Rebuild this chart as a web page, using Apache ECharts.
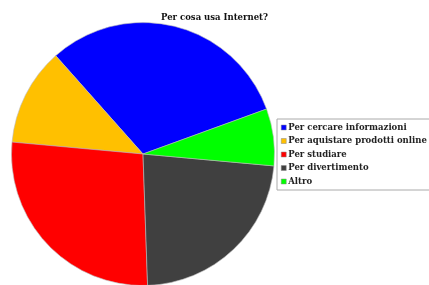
<!DOCTYPE html>
<html>
<head>
<meta charset="utf-8">
<script src="https://cdn.jsdelivr.net/npm/echarts@6/dist/echarts.min.js"></script>
<style>
  html, body { margin: 0; padding: 0; background: #fff; }
  #chart { width: 429px; height: 285px; }
</style>
</head>
<body>
<div id="chart"></div>
<script>
const categories = ['Per cercare informazioni', 'Per aquistare prodotti online', 'Per studiare', 'Per divertimento', 'Altro']
const values = [31, 12, 27, 23, 7]
const colors = ['#0000ff', '#ffc000', '#ff0000', '#404040', '#00ff00']

let chart = echarts.init(document.getElementById('chart'))

let option = {
    backgroundColor: '#ffffff',
    animation: false,
    title: {
        text: 'Per cosa usa Internet?',
        left: 'center',
        top: 8,
        textStyle: {
            fontFamily: 'DejaVu Serif',
            fontWeight: 'bold',
            fontSize: 8.5,
            color: '#111'
        }
    },
    legend: {
        orient: 'vertical',
        left: 277,
        top: 119,
        padding: [4, 12, 4, 4],
        backgroundColor: '#fff',
        borderColor: '#aaa',
        borderWidth: 1,
        itemWidth: 5,
        itemHeight: 5,
        itemGap: 4.5,
        icon: 'rect',
        itemStyle: { borderColor: '#888', borderWidth: 0.5 },
        textStyle: {
            fontFamily: 'DejaVu Serif',
            fontWeight: 'bold',
            fontSize: 8.5,
            lineHeight: 9,
            color: '#222',
            padding: [0, 0, 0, -3]
        },
        data: categories
    },
    series: [{
        type: 'pie',
        center: [143, 154],
        radius: 131.5,
        startAngle: 20,
        clockwise: false,
        label: { show: false },
        labelLine: { show: false },
        itemStyle: { borderColor: '#bbb', borderWidth: 0.6 },
        emphasis: { disabled: true },
        data: categories.map((name, i) => ({
            name: name,
            value: values[i],
            itemStyle: { color: colors[i] }
        }))
    }]
}

chart.setOption(option)
</script>
</body>
</html>
